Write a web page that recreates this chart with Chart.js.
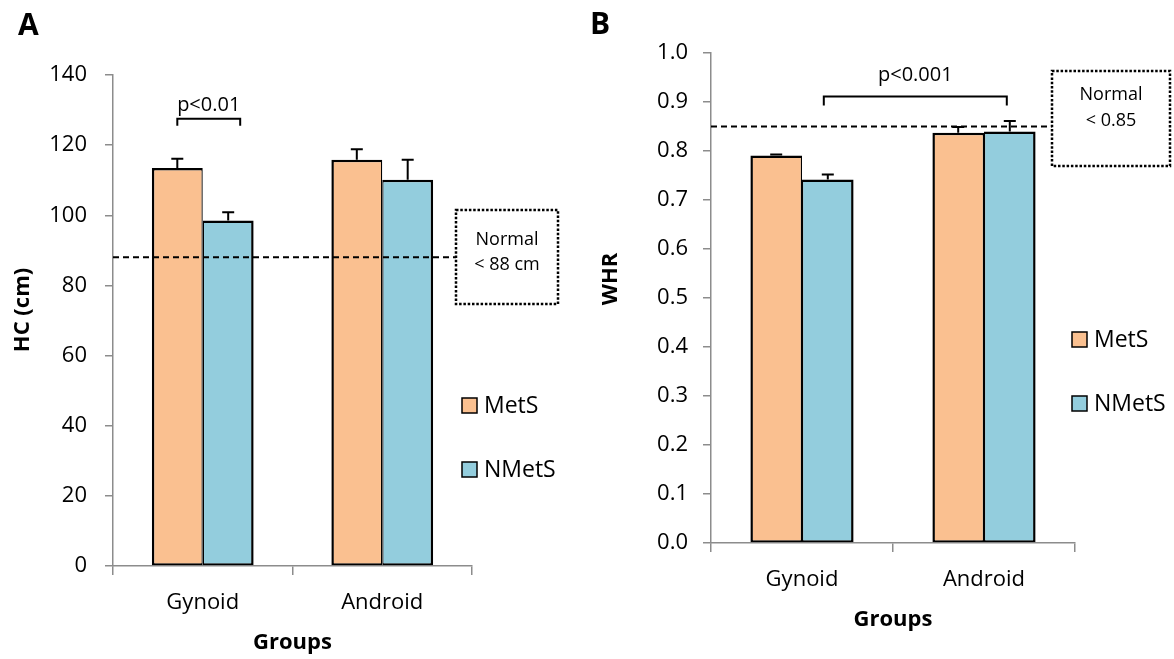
<!DOCTYPE html>
<html>
<head>
<meta charset="utf-8">
<script src="https://cdn.jsdelivr.net/npm/chart.js@4.4.0/dist/chart.umd.min.js"></script>
<style>
  html, body { margin: 0; padding: 0; background: #fff; }
  #wrap { position: relative; width: 1174px; height: 659px; overflow: hidden; }
  #wrap canvas { position: absolute; top: 0; }
  #hcChart { left: 0; }
  #whrChart { left: 587px; }
</style>
</head>
<body>
<div id="wrap">
  <canvas id="hcChart" width="587" height="659"></canvas>
  <canvas id="whrChart" width="587" height="659"></canvas>
</div>
<script>
// Groups and series
const categories = ['Gynoid', 'Android'];
const seriesNames = ['MetS', 'NMetS'];

// Panel A: hip circumference (cm), mean and upper SE
const hcMetS = [113.5, 115.8];
const hcMetSErr = [2.6, 3.0];
const hcNMetS = [98.5, 110.1];
const hcNMetSErr = [2.4, 5.7];
const hcTicks = [0, 20, 40, 60, 80, 100, 120, 140];
const hcCutoff = 88;

// Panel B: waist-to-hip ratio, mean and upper SE
const whrMetS = [0.791, 0.837];
const whrMetSErr = [0.002, 0.012];
const whrNMetS = [0.742, 0.840];
const whrNMetSErr = [0.010, 0.021];
const whrTicks = [0.0, 0.1, 0.2, 0.3, 0.4, 0.5, 0.6, 0.7, 0.8, 0.9, 1.0];
const whrCutoff = 0.85;

const FONT = '"Open Sans", "Noto Sans", sans-serif';
const AXIS_GREY = '#8c8c8c';
const FILLS = ['#FAC090', '#93CDDD'];

// Extra drawing: error bars, cut-off line, note box, significance bracket, legend, titles
const panelExtras = {
  id: 'panelExtras',
  afterDatasetsDraw(chart, args, opts) {
    const ctx = chart.ctx;
    const y = chart.scales.y;
    const area = chart.chartArea;
    ctx.save();
    // upper error bars
    ctx.strokeStyle = '#000';
    ctx.lineWidth = 2;
    chart.data.datasets.forEach((ds, di) => {
      const meta = chart.getDatasetMeta(di);
      ds.errorPlus.forEach((e, i) => {
        const bar = meta.data[i];
        const top = y.getPixelForValue(ds.data[i] + e);
        ctx.beginPath();
        ctx.moveTo(bar.x, bar.y);
        ctx.lineTo(bar.x, top);
        ctx.moveTo(bar.x - 6, top);
        ctx.lineTo(bar.x + 6, top);
        ctx.stroke();
      });
    });
    // dashed cut-off line up to the note box
    const cy = y.getPixelForValue(opts.cutoff);
    ctx.lineWidth = 2;
    ctx.setLineDash([6, 4]);
    ctx.beginPath();
    ctx.moveTo(area.left, cy);
    ctx.lineTo(opts.box.x, cy);
    ctx.stroke();
    ctx.restore();
  },
  afterDraw(chart, args, opts) {
    const ctx = chart.ctx;
    const y = chart.scales.y;
    ctx.save();
    ctx.fillStyle = '#000';
    ctx.strokeStyle = '#000';

    // panel letter
    ctx.font = 'bold 30px ' + FONT;
    ctx.textAlign = 'left';
    ctx.textBaseline = 'alphabetic';
    ctx.fillText(opts.letter.text, opts.letter.x, opts.letter.y);

    // y axis title
    ctx.save();
    ctx.translate(opts.yTitle.x, opts.yTitle.y);
    ctx.rotate(-Math.PI / 2);
    ctx.font = 'bold 22px ' + FONT;
    ctx.textAlign = 'center';
    ctx.textBaseline = 'middle';
    ctx.fillText(opts.yTitle.text, 0, 0);
    ctx.restore();

    // dotted note box
    const b = opts.box;
    ctx.lineWidth = 2.5;
    ctx.setLineDash([2.5, 1.8]);
    ctx.strokeRect(b.x, b.y, b.w, b.h);
    ctx.setLineDash([]);
    ctx.font = '18px ' + FONT;
    ctx.textAlign = 'center';
    ctx.textBaseline = 'middle';
    b.lines.forEach((t, i) => ctx.fillText(t, b.x + b.w / 2, b.lineY[i]));

    // significance bracket
    const br = opts.bracket;
    const x1 = chart.getDatasetMeta(br.from[0]).data[br.from[1]].x + br.from[2];
    const x2 = chart.getDatasetMeta(br.to[0]).data[br.to[1]].x + br.to[2];
    const yTop = y.getPixelForValue(br.top);
    const yFoot = y.getPixelForValue(br.foot);
    ctx.lineWidth = 2;
    ctx.beginPath();
    ctx.moveTo(x1, yFoot);
    ctx.lineTo(x1, yTop);
    ctx.lineTo(x2, yTop);
    ctx.lineTo(x2, yFoot);
    ctx.stroke();
    ctx.font = '20px ' + FONT;
    ctx.textBaseline = 'middle';
    ctx.fillText(br.text, (x1 + x2) / 2, y.getPixelForValue(br.labelAt));

    // legend
    const lg = opts.legend;
    ctx.font = '23px ' + FONT;
    ctx.textAlign = 'left';
    ctx.textBaseline = 'middle';
    ctx.lineWidth = 1.5;
    chart.data.datasets.forEach((ds, i) => {
      const top = lg.ys[i];
      ctx.fillStyle = ds.backgroundColor;
      ctx.fillRect(lg.x, top, 15, 15);
      ctx.strokeRect(lg.x, top, 15, 15);
      ctx.fillStyle = '#000';
      ctx.fillText(ds.label, lg.x + 22, top + 8);
    });
    ctx.restore();
  }
};

function makeDatasets(values, errors) {
  return values.map((vals, s) => ({
    label: seriesNames[s],
    data: vals,
    errorPlus: errors[s],
    backgroundColor: FILLS[s],
    borderColor: '#000',
    borderWidth: s === 0 ? { top: 2.5, left: 2.5, right: 1.3, bottom: 2 } : { top: 2.5, left: 1.3, right: 2.5, bottom: 2 },
    borderSkipped: false,
    categoryPercentage: 0.567,
    barPercentage: 1.0
  }));
}

function makeOptions(p) {
  return {
    responsive: false,
    animation: false,
    devicePixelRatio: 1,
    layout: { padding: p.padding },
    plugins: {
      legend: { display: false },
      tooltip: { enabled: false },
      panelExtras: p.extras
    },
    scales: {
      x: {
        grid: { offset: true, drawOnChartArea: false, tickLength: 9, color: AXIS_GREY, lineWidth: 1.5 },
        border: { color: AXIS_GREY, width: 1.5 },
        ticks: { color: '#000', font: { family: FONT, size: 22 }, padding: p.xTickPad },
        title: { display: true, text: 'Groups', color: '#000', font: { family: FONT, size: 22, weight: 'bold' },
                 padding: { top: 0, bottom: p.xTitlePad } },
        afterFit: s => { s.height = p.xHeight; }
      },
      y: {
        min: p.ticks[0],
        max: p.ticks[p.ticks.length - 1],
        afterBuildTicks: s => { s.ticks = p.ticks.map(v => ({ value: v })); },
        grid: { drawOnChartArea: false, tickLength: 8, color: AXIS_GREY, lineWidth: 1.5 },
        border: { color: AXIS_GREY, width: 1.5 },
        ticks: { color: '#000', font: { family: FONT, size: 22 }, padding: p.yTickPad, callback: p.fmt },
        afterFit: s => { s.width = p.yWidth; }
      }
    }
  };
}

new Chart(document.getElementById('hcChart'), {
  type: 'bar',
  data: { labels: categories, datasets: makeDatasets([hcMetS, hcNMetS], [hcMetSErr, hcNMetSErr]) },
  options: makeOptions({
    padding: { left: 0, top: 75, right: 115, bottom: 0 },
    xHeight: 93, yWidth: 113, xTickPad: 15, xTitlePad: 3, yTickPad: 18,
    ticks: hcTicks,
    fmt: v => String(v),
    extras: {
      letter: { text: 'A', x: 18, y: 35 },
      yTitle: { text: 'HC (cm)', x: 23, y: 310 },
      cutoff: hcCutoff,
      box: { x: 456, y: 210, w: 102, h: 94, lines: ['Normal', '< 88 cm'], lineY: [240, 265] },
      bracket: { from: [0, 0, 0], to: [1, 0, 12], top: 127.5, foot: 125.5, text: 'p<0.01', labelAt: 131.4 },
      legend: { x: 462, ys: [398, 462] }
    }
  }),
  plugins: [panelExtras]
});

new Chart(document.getElementById('whrChart'), {
  type: 'bar',
  data: { labels: categories, datasets: makeDatasets([whrMetS, whrNMetS], [whrMetSErr, whrNMetSErr]) },
  options: makeOptions({
    padding: { left: 0, top: 53, right: 99, bottom: 0 },
    xHeight: 116, yWidth: 124, xTickPad: 15, xTitlePad: 26, yTickPad: 15,
    ticks: whrTicks,
    fmt: v => v.toFixed(1),
    extras: {
      letter: { text: 'B', x: 3, y: 34 },
      yTitle: { text: 'WHR', x: 24, y: 279 },
      cutoff: whrCutoff,
      box: { x: 465, y: 71, w: 118, h: 95, lines: ['Normal', '< 0.85'], lineY: [95, 121] },
      bracket: { from: [1, 0, -4], to: [1, 1, -3], top: 0.911, foot: 0.893, text: 'p<0.001', labelAt: 0.954 },
      legend: { x: 485, ys: [332, 396] }
    }
  }),
  plugins: [panelExtras]
});
</script>
</body>
</html>
